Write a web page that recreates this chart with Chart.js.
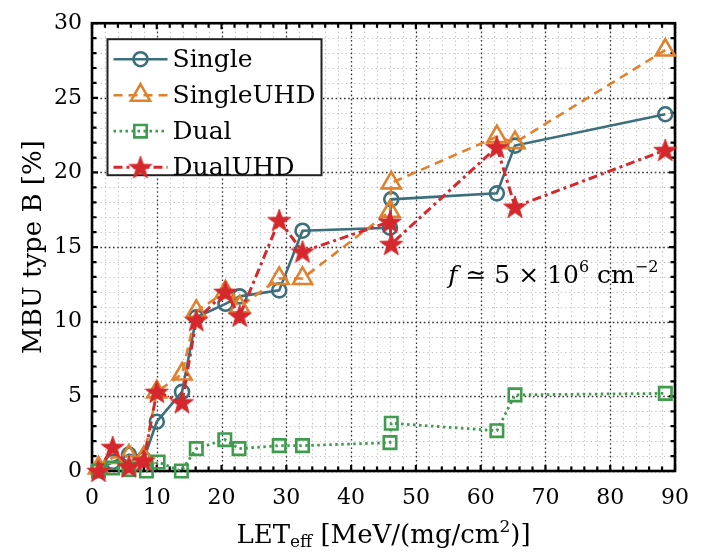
<!DOCTYPE html>
<html>
<head>
<meta charset="utf-8">
<script src="https://cdn.jsdelivr.net/npm/chart.js@4/dist/chart.umd.min.js"></script>
<style>
  html, body { margin: 0; padding: 0; background: #fff; }
  #wrap { width: 703px; height: 553px; }
</style>
</head>
<body>
<div id="wrap"><canvas id="c" width="703" height="553"></canvas></div>
<script>
// Effective LET [MeV/(mg/cm^2)] and MBU type B fraction [%] per configuration
const letSingle    = [1.0, 3.2, 5.7, 8.0, 10.0, 13.9, 16.1, 20.6, 22.8, 28.9, 32.5, 46.0, 46.2, 62.5, 65.3, 88.5];
const mbuSingle    = [0.1, 0.6, 1.1, 0.8, 3.3, 5.3, 10.3, 11.2, 11.7, 12.1, 16.1, 16.3, 18.2, 18.6, 21.8, 23.9];

const letSingleUHD = [1.0, 3.2, 5.7, 8.0, 10.0, 13.9, 16.1, 20.6, 22.8, 28.9, 32.5, 46.0, 46.2, 62.5, 65.3, 88.5];
const mbuSingleUHD = [0.2, 0.9, 1.0, 0.9, 5.3, 6.5, 10.7, 12.0, 11.0, 12.9, 12.9, 17.4, 19.3, 22.4, 22.0, 28.2];

const letDual      = [1.0, 3.2, 5.7, 8.4, 10.2, 13.8, 16.1, 20.5, 22.7, 28.9, 32.5, 46.0, 46.2, 62.5, 65.3, 88.5];
const mbuDual      = [0.0, 0.2, 0.1, 0.0, 0.6, 0.0, 1.5, 2.1, 1.5, 1.7, 1.7, 1.9, 3.2, 2.7, 5.1, 5.2];

const letDualUHD   = [1.0, 3.2, 5.7, 8.0, 10.0, 13.9, 16.1, 20.6, 22.8, 28.9, 32.5, 46.0, 46.2, 62.5, 65.3, 88.5];
const mbuDualUHD   = [0.0, 1.6, 0.3, 0.7, 5.3, 4.6, 10.1, 12.0, 10.4, 16.8, 14.7, 16.7, 15.2, 21.7, 17.7, 21.5];

const seriesNames  = ['Single', 'SingleUHD', 'Dual', 'DualUHD'];
const xTickValues  = [0, 10, 20, 30, 40, 50, 60, 70, 80, 90];
const yTickValues  = [0, 5, 10, 15, 20, 25, 30];

const SERIF = "'DejaVu Serif', 'Liberation Serif', serif";
const C_TEAL = '#3c6f7c', C_ORANGE = '#e0812e', C_GREEN = '#3f9b4d', C_RED = '#d5282c';

const pairs = (xs, ys) => xs.map((v, i) => ({ x: v, y: ys[i] }));

// filled five-pointed star used as a marker
function starMarker(color, outer) {
  const pad = 2, s = Math.ceil(outer * 2 + pad * 2);
  const cv = document.createElement('canvas');
  cv.width = s; cv.height = s;
  const g = cv.getContext('2d');
  const cx = s / 2, cy = s / 2 + outer * 0.08, inner = outer * 0.40;
  g.beginPath();
  for (let i = 0; i < 10; i++) {
    const r = i % 2 ? inner : outer;
    const a = -Math.PI / 2 + i * Math.PI / 5;
    const px = cx + r * Math.cos(a), py = cy + r * Math.sin(a);
    i ? g.lineTo(px, py) : g.moveTo(px, py);
  }
  g.closePath();
  g.fillStyle = color; g.fill();
  g.lineWidth = 1; g.strokeStyle = color; g.stroke();
  return cv;
}
const starImg = starMarker(C_RED, 12);

const datasets = [
  { label: seriesNames[0], data: pairs(letSingle, mbuSingle), borderColor: C_TEAL, borderWidth: 2.6,
    pointStyle: 'circle', pointRadius: 7, pointBorderWidth: 2.6, pointBorderColor: C_TEAL,
    pointBackgroundColor: 'rgba(0,0,0,0)', borderDash: [], order: 4 },
  { label: seriesNames[1], data: pairs(letSingleUHD, mbuSingleUHD), borderColor: C_ORANGE, borderWidth: 2.6,
    pointStyle: 'triangle', pointRadius: 11, pointBorderWidth: 2.6, pointBorderColor: C_ORANGE,
    pointBackgroundColor: 'rgba(0,0,0,0)', borderDash: [9, 6], order: 3 },
  { label: seriesNames[2], data: pairs(letDual, mbuDual), borderColor: C_GREEN, borderWidth: 2.8,
    pointStyle: 'rect', pointRadius: 8.8, pointBorderWidth: 2.6, pointBorderColor: C_GREEN,
    pointBackgroundColor: 'rgba(0,0,0,0)', borderDash: [2.5, 3.5], order: 2 },
  { label: seriesNames[3], data: pairs(letDualUHD, mbuDualUHD), borderColor: C_RED, borderWidth: 3,
    pointStyle: starImg, pointRadius: 11, pointBorderWidth: 0,
    pointBackgroundColor: C_RED, borderDash: [9, 4, 3, 4], order: 1 }
];
datasets.forEach(d => { d.fill = false; d.tension = 0; d.clip = false; d.pointHoverRadius = d.pointRadius; });

// draws a run of text pieces (sub/superscripts, italics) on one baseline
function drawRich(ctx, segs, x, y, align) {
  const fontOf = s => `${s.italic ? 'italic ' : ''}${s.size}px ${SERIF}`;
  let w = 0;
  segs.forEach(s => { ctx.font = fontOf(s); w += ctx.measureText(s.t).width; });
  let cx = align === 'center' ? x - w / 2 : (align === 'right' ? x - w : x);
  ctx.textAlign = 'left'; ctx.textBaseline = 'alphabetic';
  segs.forEach(s => {
    ctx.font = fontOf(s);
    ctx.fillText(s.t, cx, y + (s.dy || 0));
    cx += ctx.measureText(s.t).width;
  });
}

const framePlugin = {
  id: 'frame',
  beforeDatasetsDraw(chart) {
    const { ctx, chartArea: a, scales: { x, y } } = chart;
    ctx.save();
    const vline = (v, dash, col, lw) => {
      const p = Math.round(x.getPixelForValue(v)) + 0.5;
      ctx.setLineDash(dash); ctx.strokeStyle = col; ctx.lineWidth = lw;
      ctx.beginPath(); ctx.moveTo(p, a.top); ctx.lineTo(p, a.bottom); ctx.stroke();
    };
    const hline = (v, dash, col, lw) => {
      const p = Math.round(y.getPixelForValue(v)) + 0.5;
      ctx.setLineDash(dash); ctx.strokeStyle = col; ctx.lineWidth = lw;
      ctx.beginPath(); ctx.moveTo(a.left, p); ctx.lineTo(a.right, p); ctx.stroke();
    };
    // minor grid
    for (let v = 2; v < 90; v += 2) if (v % 10) vline(v, [1.3, 3], '#c4c4c4', 1.2);
    for (let v = 1; v < 30; v += 1) if (v % 5) hline(v, [1.3, 3], '#c4c4c4', 1.2);
    // major grid
    xTickValues.forEach(v => vline(v, [1.6, 2.6], '#333', 1.3));
    yTickValues.forEach(v => hline(v, [1.6, 2.6], '#333', 1.3));
    ctx.setLineDash([]);
    // inward ticks on all four sides
    ctx.strokeStyle = '#000'; ctx.lineWidth = 2.2;
    ctx.beginPath();
    for (let v = 0; v <= 90; v += 2) {
      const p = x.getPixelForValue(v), L = v % 10 ? 4.5 : 6;
      ctx.moveTo(p, a.bottom); ctx.lineTo(p, a.bottom - L);
      ctx.moveTo(p, a.top); ctx.lineTo(p, a.top + L);
    }
    for (let v = 0; v <= 30; v += 1) {
      const p = y.getPixelForValue(v), L = v % 5 ? 4.5 : 6;
      ctx.moveTo(a.left, p); ctx.lineTo(a.left + L, p);
      ctx.moveTo(a.right, p); ctx.lineTo(a.right - L, p);
    }
    ctx.stroke();
    ctx.lineWidth = 2.6;
    ctx.strokeRect(a.left, a.top, a.right - a.left, a.bottom - a.top);
    ctx.restore();
  },
  afterDatasetsDraw(chart) {
    const { ctx, chartArea: a, scales: { x, y } } = chart;
    ctx.save();
    // legend
    const bx = a.left + 15.5, by = a.top + 16, bw = 214, bh = 136;
    ctx.fillStyle = '#fff'; ctx.fillRect(bx, by, bw, bh);
    ctx.strokeStyle = '#222'; ctx.lineWidth = 2; ctx.strokeRect(bx, by, bw, bh);
    chart.data.datasets.forEach((d, i) => {
      const cy = by + 20 + i * 36, x0 = bx + 6, x1 = bx + 60, mx = (x0 + x1) / 2;
      ctx.setLineDash(d.borderDash); ctx.strokeStyle = d.borderColor; ctx.lineWidth = d.borderWidth;
      ctx.beginPath(); ctx.moveTo(x0, cy); ctx.lineTo(x1, cy); ctx.stroke();
      ctx.setLineDash([]);
      if (typeof d.pointStyle === 'string') {
        ctx.strokeStyle = d.pointBorderColor; ctx.fillStyle = d.pointBackgroundColor; ctx.lineWidth = d.pointBorderWidth;
        Chart.helpers.drawPoint(ctx, { pointStyle: d.pointStyle, radius: d.pointRadius, borderWidth: d.pointBorderWidth, rotation: 0 }, mx, cy);
      } else {
        ctx.drawImage(d.pointStyle, mx - d.pointStyle.width / 2, cy - d.pointStyle.height / 2);
      }
      ctx.fillStyle = '#000'; ctx.font = `25px ${SERIF}`;
      ctx.textAlign = 'left'; ctx.textBaseline = 'middle';
      ctx.fillText(d.label, x1 + 5, cy + 1);
    });
    // fluence note
    ctx.fillStyle = '#000';
    drawRich(ctx, [
      { t: 'f', size: 25, italic: true },
      { t: ' \u2243 5 \u00d7 10', size: 25 },
      { t: '6', size: 16, dy: -11 },
      { t: ' cm', size: 25 },
      { t: '\u22122', size: 16, dy: -11 }
    ], x.getPixelForValue(55.0), y.getPixelForValue(12.6), 'left');
    ctx.restore();
  },
  afterDraw(chart) {
    const { ctx, chartArea: a } = chart;
    ctx.save();
    ctx.fillStyle = '#000';
    // x-axis title
    drawRich(ctx, [
      { t: 'LET', size: 26 },
      { t: 'eff', size: 17, dy: 4 },
      { t: ' [MeV/(mg/cm', size: 26 },
      { t: '2', size: 17, dy: -11 },
      { t: ')]', size: 26 }
    ], (a.left + a.right) / 2, 543, 'center');
    // y-axis title
    ctx.translate(41, (a.top + a.bottom) / 2);
    ctx.rotate(-Math.PI / 2);
    drawRich(ctx, [{ t: 'MBU type B [%]', size: 26 }], 0, 0, 'center');
    ctx.restore();
  }
};

new Chart(document.getElementById('c'), {
  type: 'line',
  data: { datasets },
  options: {
    responsive: false,
    devicePixelRatio: 1,
    animation: false,
    layout: { padding: { top: 21, right: 17, left: 0, bottom: 0 } },
    plugins: { legend: { display: false }, tooltip: { enabled: false } },
    scales: {
      x: {
        type: 'linear', min: 0, max: 90,
        afterBuildTicks: s => { s.ticks = xTickValues.map(v => ({ value: v })); },
        afterFit: s => { s.height = 82; },
        grid: { display: false, drawTicks: false },
        border: { display: false },
        ticks: { color: '#000', font: { family: SERIF, size: 22 }, padding: 14, maxRotation: 0, autoSkip: false }
      },
      y: {
        type: 'linear', min: 0, max: 30,
        afterBuildTicks: s => { s.ticks = yTickValues.map(v => ({ value: v })); },
        afterFit: s => { s.width = 92; },
        grid: { display: false, drawTicks: false },
        border: { display: false },
        ticks: { color: '#000', font: { family: SERIF, size: 22 }, padding: 10, autoSkip: false }
      }
    }
  },
  plugins: [framePlugin]
});
</script>
</body>
</html>
